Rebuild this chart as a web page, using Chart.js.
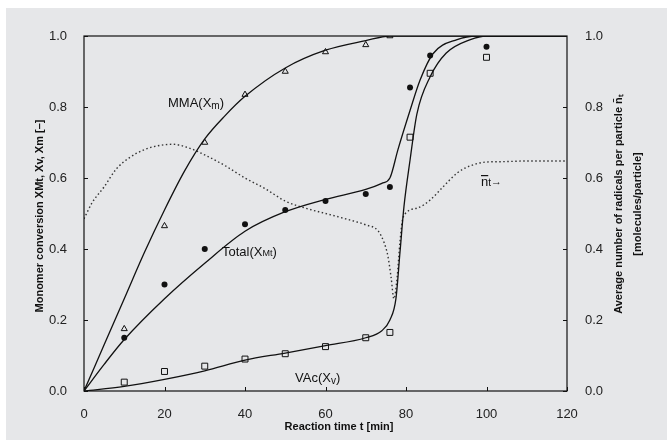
<!DOCTYPE html>
<html lang="en">
<head>
    <meta charset="UTF-8">
    <title>Conversion vs time</title>
    <script src="https://cdn.jsdelivr.net/npm/chart.js"></script>
    <style type="text/css">
        html, body {
            margin: 0;
            padding: 0;
            background: #ffffff;
        }

        #wrap {
            width: 667px;
            height: 440px;
        }
    </style>
</head>
<body>
<div id="wrap">
    <canvas id="myChart" width="667" height="440"></canvas>
</div>

<script>
  // measured points (time in min, conversion)
  var sampleTimes = [10, 20, 30, 40, 50, 60, 70, 76];
  var mmaMeasured = [0.175, 0.465, 0.70, 0.835, 0.90, 0.955, 0.975, 1.0];

  var totalTimes = [10, 20, 30, 40, 50, 60, 70, 76, 81, 86, 100];
  var totalMeasured = [0.15, 0.30, 0.40, 0.47, 0.51, 0.535, 0.555, 0.575, 0.855, 0.945, 0.97];

  var vacTimes = [10, 20, 30, 40, 50, 60, 70, 76, 81, 86, 100];
  var vacMeasured = [0.025, 0.055, 0.07, 0.09, 0.105, 0.125, 0.15, 0.165, 0.715, 0.895, 0.94];

  // model curves
  var mmaCurveT = [0, 5, 10, 15, 20, 25, 30, 35, 40, 50, 60, 70, 76, 90, 120];
  var mmaCurve = [0, 0.13, 0.26, 0.39, 0.51, 0.62, 0.71, 0.775, 0.83, 0.91, 0.96, 0.987, 1.0, 1.0, 1.0];

  var totalCurveT = [0, 5, 10, 20, 30, 40, 50, 60, 70, 74, 76, 78, 81, 83.5, 86.7, 92.7, 97.6, 120];
  var totalCurve = [0, 0.075, 0.145, 0.26, 0.36, 0.45, 0.505, 0.54, 0.568, 0.585, 0.60, 0.68, 0.79, 0.876, 0.95, 0.99, 1.0, 1.0];

  var vacCurveT = [0, 10, 20, 30, 40, 50, 60, 70, 74, 76, 77.5, 78.5, 79.5, 81, 82.7, 86, 90, 96, 100, 120];
  var vacCurve = [0, 0.013, 0.033, 0.057, 0.087, 0.107, 0.128, 0.15, 0.17, 0.20, 0.26, 0.39, 0.52, 0.65, 0.78, 0.885, 0.952, 0.99, 1.0, 1.0];

  // average number of radicals per particle (right axis)
  var ntCurveT = [0, 2, 5, 8, 11, 15, 18, 22, 26, 30, 35, 40, 45, 50, 55, 60, 65, 70, 73, 74.5, 75.5, 76.3, 77, 77.8, 78.5, 79.3, 82.7, 86, 89.2, 92.7, 95.9, 100, 104, 110, 120];
  var ntCurve = [0.485, 0.53, 0.575, 0.625, 0.655, 0.68, 0.69, 0.695, 0.685, 0.665, 0.635, 0.60, 0.57, 0.535, 0.515, 0.50, 0.485, 0.468, 0.452, 0.42, 0.38, 0.32, 0.26, 0.32, 0.42, 0.49, 0.515, 0.538, 0.575, 0.614, 0.634, 0.645, 0.646, 0.648, 0.648];

  var xTicks = [0, 20, 40, 60, 80, 100, 120];
  var yTicks = [0, 0.2, 0.4, 0.6, 0.8, 1.0];

  function pairs(xs, ys) {
    var out = [];
    for (var i = 0; i < xs.length; i++) {
      out.push({x: xs[i], y: ys[i]});
    }
    return out;
  }

  var ink = '#111111';
  var panel = '#e6e7e9';
  var font = '"Liberation Sans", Arial, sans-serif';

  function drawRich(ctx, parts, x, y) {
    for (var p of parts) {
      ctx.font = p.size + 'px ' + font;
      ctx.fillText(p.text, x, y + (p.dy || 0));
      x += ctx.measureText(p.text).width;
    }
    return x;
  }

  var decor = {
    id: 'decor',
    beforeDraw: function (chart) {
      var ctx = chart.ctx;
      ctx.save();
      ctx.fillStyle = '#ffffff';
      ctx.fillRect(0, 0, chart.width, chart.height);
      ctx.fillStyle = panel;
      ctx.fillRect(6, 8, chart.width - 6, chart.height - 8);
      ctx.restore();
    },
    afterDatasetsDraw: function (chart) {
      var ctx = chart.ctx;
      var a = chart.chartArea;
      var xs = chart.scales.x, ys = chart.scales.y, ys2 = chart.scales.y2;
      ctx.save();
      ctx.strokeStyle = ink;
      ctx.lineWidth = 1.2;
      ctx.strokeRect(a.left, a.top, a.right - a.left, a.bottom - a.top);

      // inward ticks
      ctx.lineWidth = 1;
      ctx.beginPath();
      for (var t of xTicks) {
        var px = Math.round(xs.getPixelForValue(t)) + 0.5;
        ctx.moveTo(px, a.bottom);
        ctx.lineTo(px, a.bottom - 4);
      }
      for (var v of yTicks) {
        var py = Math.round(ys.getPixelForValue(v)) + 0.5;
        ctx.moveTo(a.left, py);
        ctx.lineTo(a.left + 4, py);
        var py2 = Math.round(ys2.getPixelForValue(v)) + 0.5;
        ctx.moveTo(a.right, py2);
        ctx.lineTo(a.right - 4, py2);
      }
      ctx.stroke();

      // curve labels
      ctx.fillStyle = ink;
      ctx.textBaseline = 'alphabetic';
      ctx.textAlign = 'left';
      drawRich(ctx, [{text: 'MMA(X', size: 13}, {text: 'm', size: 10, dy: 2}, {text: ')', size: 13}], 168, 107);
      drawRich(ctx, [{text: 'Total(X', size: 13}, {text: 'Mt', size: 9}, {text: ')', size: 13}], 222, 256);
      drawRich(ctx, [{text: 'VAc(X', size: 13}, {text: 'v', size: 10, dy: 2}, {text: ')', size: 13}], 295, 382);

      ctx.font = '13px ' + font;
      ctx.fillText('n', 481, 186);
      var nw = ctx.measureText('n').width;
      ctx.fillRect(481, 175, nw, 1.2);
      var ex = drawRich(ctx, [{text: 't', size: 10}], 481 + nw, 186);
      ctx.font = '11px ' + font;
      ctx.fillText('\u2192', ex, 185);

      // axis titles
      ctx.font = 'bold 11px ' + font;
      ctx.textAlign = 'center';
      ctx.textBaseline = 'middle';
      ctx.fillText('Reaction time t [min]', 339, 427);

      ctx.save();
      ctx.translate(40, 216);
      ctx.rotate(-Math.PI / 2);
      ctx.fillText('Monomer conversion XMt, Xv, Xm [\u2013]', 0, 0);
      ctx.restore();

      ctx.save();
      ctx.translate(619, 204);
      ctx.rotate(-Math.PI / 2);
      ctx.fillText('Average number of radicals per particle n\u0304\u209C', 0, 0);
      ctx.fillText('[molecules/particle]', 0, 19);
      ctx.restore();

      ctx.restore();
    }
  };

  var ctx = document.getElementById('myChart').getContext('2d');

  var curveStyle = {
    borderColor: ink,
    borderWidth: 1.3,
    pointRadius: 0,
    fill: false,
    cubicInterpolationMode: 'monotone'
  };

  var myChart = new Chart(ctx, {
    type: 'scatter',
    data: {
      datasets: [
        Object.assign({label: 'MMA model', type: 'line', data: pairs(mmaCurveT, mmaCurve), yAxisID: 'y'}, curveStyle),
        Object.assign({label: 'Total model', type: 'line', data: pairs(totalCurveT, totalCurve), yAxisID: 'y'}, curveStyle),
        Object.assign({label: 'VAc model', type: 'line', data: pairs(vacCurveT, vacCurve), yAxisID: 'y'}, curveStyle),
        {
          label: 'n_t',
          type: 'line',
          data: pairs(ntCurveT, ntCurve),
          yAxisID: 'y2',
          borderColor: '#333333',
          borderWidth: 1.4,
          borderDash: [1.5, 2.5],
          pointRadius: 0,
          fill: false,
          cubicInterpolationMode: 'monotone'
        },
        {
          label: 'MMA',
          data: pairs(sampleTimes, mmaMeasured),
          yAxisID: 'y',
          pointStyle: 'triangle',
          pointRadius: 3.5,
          borderColor: ink,
          borderWidth: 1,
          backgroundColor: panel
        },
        {
          label: 'Total',
          data: pairs(totalTimes, totalMeasured),
          yAxisID: 'y',
          pointStyle: 'circle',
          pointRadius: 3,
          borderColor: ink,
          borderWidth: 0,
          backgroundColor: ink
        },
        {
          label: 'VAc',
          data: pairs(vacTimes, vacMeasured),
          yAxisID: 'y',
          pointStyle: 'rect',
          pointRadius: 4.2,
          borderColor: ink,
          borderWidth: 1,
          backgroundColor: panel
        }
      ]
    },
    options: {
      responsive: false,
      animation: false,
      layout: {padding: {top: 36, left: 0, right: 0, bottom: 0}},
      plugins: {
        legend: {display: false},
        tooltip: {enabled: false}
      },
      scales: {
        x: {
          type: 'linear',
          min: 0,
          max: 120,
          grid: {display: false},
          border: {display: false},
          afterBuildTicks: function (scale) {
            scale.ticks = xTicks.map(function (v) { return {value: v}; });
          },
          ticks: {
            color: '#222222',
            font: {family: font, size: 13},
            padding: 8,
            maxRotation: 0
          },
          afterFit: function (scale) { scale.height = 49; }
        },
        y: {
          position: 'left',
          min: 0,
          max: 1,
          grid: {display: false},
          border: {display: false},
          afterBuildTicks: function (scale) {
            scale.ticks = yTicks.map(function (v) { return {value: v}; });
          },
          ticks: {
            color: '#222222',
            font: {family: font, size: 13},
            padding: 9,
            callback: function (v) { return Number(v).toFixed(1); }
          },
          afterFit: function (scale) { scale.width = 84; }
        },
        y2: {
          position: 'right',
          min: 0,
          max: 1,
          grid: {display: false},
          border: {display: false},
          afterBuildTicks: function (scale) {
            scale.ticks = yTicks.map(function (v) { return {value: v}; });
          },
          ticks: {
            color: '#222222',
            font: {family: font, size: 13},
            padding: 10,
            callback: function (v) { return Number(v).toFixed(1); }
          },
          afterFit: function (scale) { scale.width = 100; }
        }
      }
    },
    plugins: [decor]
  });
</script>
</body>
</html>
